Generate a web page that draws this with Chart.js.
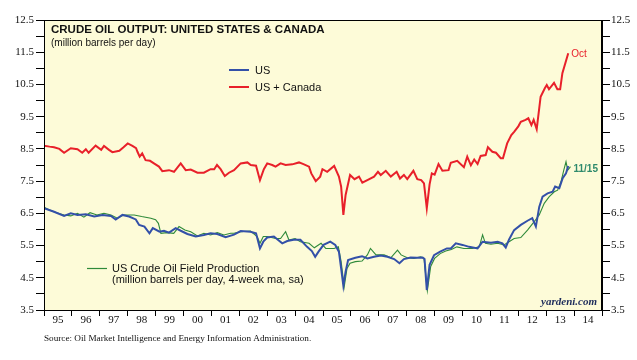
<!DOCTYPE html>
<html>
<head>
<meta charset="utf-8">
<script src="https://cdn.jsdelivr.net/npm/chart.js@4.4.1/dist/chart.umd.min.js"></script>
<style>
  html, body { margin: 0; padding: 0; background: #ffffff; }
  #wrap { width: 637px; height: 360px; position: relative; }
</style>
</head>
<body>
<div id="wrap"><canvas id="c" width="637" height="360"></canvas></div>
<script>
// ---- Data ----
const yearLabels = ['95','96','97','98','99','00','01','02','03','04','05','06','07','08','09','10','11','12','13','14'];
const yTickLabels = ['3.5','4.5','5.5','6.5','7.5','8.5','9.5','10.5','11.5','12.5'];

// US + Canada (monthly, million barrels per day)
const usCanDates = [1995.00,1995.20,1995.36,1995.55,1995.72,1995.96,1996.20,1996.37,1996.50,1996.60,1996.85,1997.05,1997.15,1997.33,1997.45,1997.70,1997.85,1998.00,1998.17,1998.30,1998.35,1998.43,1998.52,1998.64,1998.80,1998.94,1999.12,1999.24,1999.48,1999.66,1999.90,2000.08,2000.26,2000.50,2000.73,2000.97,2001.10,2001.20,2001.33,2001.48,2001.63,2001.81,2002.05,2002.29,2002.41,2002.60,2002.74,2002.88,2003.00,2003.18,2003.30,2003.48,2003.66,2003.90,2004.14,2004.32,2004.50,2004.58,2004.74,2004.90,2004.98,2005.15,2005.40,2005.57,2005.65,2005.73,2005.81,2005.97,2006.13,2006.29,2006.41,2006.59,2006.83,2006.97,2007.07,2007.25,2007.43,2007.64,2007.76,2007.90,2008.02,2008.24,2008.38,2008.52,2008.62,2008.72,2008.82,2008.90,2009.00,2009.14,2009.28,2009.50,2009.58,2009.81,2010.05,2010.17,2010.30,2010.42,2010.54,2010.65,2010.83,2010.91,2011.07,2011.20,2011.37,2011.45,2011.60,2011.75,2011.85,2012.00,2012.09,2012.26,2012.36,2012.47,2012.55,2012.66,2012.80,2012.95,2013.02,2013.10,2013.28,2013.40,2013.50,2013.58,2013.79];
const usCanValues = [8.60,8.57,8.55,8.50,8.38,8.52,8.49,8.38,8.49,8.38,8.60,8.47,8.59,8.47,8.40,8.44,8.55,8.67,8.59,8.52,8.41,8.26,8.36,8.15,8.13,8.05,7.95,7.81,7.84,7.79,8.05,7.84,7.86,7.76,7.76,7.87,7.87,8.00,7.87,7.66,7.76,7.84,8.05,8.08,8.00,7.98,7.53,7.87,8.05,8.00,7.95,8.05,8.00,8.02,8.08,8.02,7.95,7.74,7.50,7.64,7.87,7.79,7.97,7.64,7.33,6.45,7.07,7.69,7.56,7.64,7.45,7.53,7.64,7.79,7.69,7.82,7.64,7.79,7.58,7.69,7.56,7.82,7.56,7.53,7.43,6.66,7.40,7.74,7.70,8.03,7.82,7.84,8.07,8.13,7.93,8.26,7.99,8.17,8.03,8.28,8.31,8.55,8.41,8.38,8.21,8.21,8.67,8.93,9.03,9.20,9.34,9.40,9.45,9.24,9.40,9.11,10.12,10.38,10.48,10.35,10.55,10.35,10.35,10.85,11.47];

// US (monthly)
const usDates = [1995.00,1995.36,1995.72,1995.96,1996.20,1996.50,1996.80,1997.10,1997.40,1997.57,1997.81,1998.05,1998.29,1998.41,1998.60,1998.78,1998.90,1999.14,1999.30,1999.48,1999.72,1999.90,2000.14,2000.44,2000.73,2000.97,2001.21,2001.51,2001.81,2002.05,2002.40,2002.60,2002.74,2002.86,2003.00,2003.24,2003.54,2003.72,2003.95,2004.19,2004.43,2004.60,2004.72,2004.84,2005.02,2005.26,2005.44,2005.57,2005.65,2005.73,2005.81,2005.90,2006.16,2006.40,2006.59,2006.83,2007.07,2007.31,2007.55,2007.74,2007.90,2008.14,2008.36,2008.57,2008.64,2008.72,2008.82,2008.98,2009.20,2009.44,2009.58,2009.76,2010.00,2010.24,2010.54,2010.72,2011.02,2011.26,2011.43,2011.55,2011.67,2011.85,2012.09,2012.33,2012.50,2012.63,2012.75,2012.87,2013.05,2013.23,2013.32,2013.47,2013.59,2013.71,2013.79];
const usValues = [6.66,6.55,6.42,6.50,6.45,6.47,6.40,6.45,6.42,6.31,6.45,6.40,6.31,6.14,6.09,5.88,6.04,5.93,5.96,5.90,6.04,5.96,5.86,5.78,5.83,5.88,5.86,5.76,5.84,5.95,5.93,5.88,5.41,5.62,5.75,5.78,5.57,5.64,5.68,5.68,5.46,5.33,5.15,5.31,5.52,5.62,5.52,5.31,4.79,4.25,4.69,5.05,5.12,5.17,5.10,5.15,5.19,5.15,5.08,4.95,5.08,5.13,5.12,5.13,5.08,4.12,4.90,5.20,5.31,5.41,5.41,5.57,5.52,5.46,5.41,5.62,5.59,5.62,5.57,5.44,5.69,5.98,6.14,6.27,6.35,6.09,6.70,7.02,7.12,7.17,7.33,7.28,7.59,7.74,7.97];

// US Crude Oil Field Production (weekly, 4-week ma, sa)
const fieldDates = [1995.00,1995.20,1995.45,1995.72,1995.96,1996.20,1996.43,1996.65,1996.90,1997.15,1997.40,1997.63,1997.85,1998.23,1998.50,1998.83,1999.00,1999.10,1999.19,1999.40,1999.65,1999.84,2000.05,2000.26,2000.50,2000.73,2000.97,2001.21,2001.45,2001.69,2001.81,2002.05,2002.40,2002.64,2002.74,2002.86,2003.00,2003.30,2003.48,2003.66,2003.78,2004.00,2004.19,2004.50,2004.69,2004.93,2005.10,2005.40,2005.55,2005.65,2005.76,2005.86,2005.97,2006.16,2006.40,2006.59,2006.70,2006.90,2007.19,2007.43,2007.67,2007.80,2008.02,2008.26,2008.50,2008.62,2008.74,2008.86,2009.00,2009.20,2009.40,2009.60,2009.80,2010.05,2010.35,2010.60,2010.72,2010.82,2011.02,2011.26,2011.49,2011.67,2011.85,2012.09,2012.33,2012.57,2012.75,2012.93,2013.11,2013.29,2013.41,2013.53,2013.63,2013.71,2013.77,2013.87];
const fieldValues = [6.69,6.60,6.52,6.45,6.42,6.50,6.38,6.52,6.45,6.50,6.45,6.35,6.45,6.45,6.40,6.35,6.30,6.19,5.88,5.90,5.88,6.09,5.98,5.93,5.80,5.88,5.83,5.90,5.83,5.88,5.88,5.93,5.95,5.78,5.57,5.78,5.78,5.72,5.72,5.93,5.67,5.72,5.62,5.57,5.43,5.57,5.41,5.41,5.46,5.00,4.22,4.79,4.95,5.00,5.02,5.21,5.41,5.21,5.21,5.12,5.36,5.21,5.12,5.10,5.15,5.10,4.10,4.85,5.10,5.25,5.33,5.38,5.46,5.41,5.41,5.46,5.83,5.57,5.54,5.57,5.52,5.62,5.72,5.75,5.98,6.24,6.45,6.81,7.02,7.17,7.22,7.48,7.84,8.10,7.84,7.95];

const zip = (xs, ys) => xs.map((x, i) => ({ x: x, y: ys[i] }));

const COL_RED = '#e8202a';
const COL_BLUE = '#3350a8';
const COL_GREEN = '#2f8a3a';

const decorPlugin = {
  id: 'decor',
  beforeDraw(chart) {
    const { ctx, chartArea: a } = chart;
    ctx.save();
    ctx.fillStyle = '#fdfbd8';
    ctx.fillRect(a.left, a.top, a.right - a.left, a.bottom - a.top);
    ctx.restore();
  },
  afterDraw(chart) {
    const { ctx, chartArea: a, scales } = chart;
    ctx.save();
    // frame
    ctx.strokeStyle = '#000';
    ctx.lineWidth = 1;
    ctx.strokeRect(a.left + 0.5, a.top + 0.5, a.right - a.left - 1, a.bottom - a.top);

    // title
    ctx.fillStyle = '#111';
    ctx.textBaseline = 'alphabetic';
    ctx.textAlign = 'left';
    ctx.font = 'bold 11.5px "Liberation Sans", Arial, sans-serif';
    ctx.fillText('CRUDE OIL OUTPUT: UNITED STATES & CANADA', 51, 33);
    ctx.font = '10px "Liberation Sans", Arial, sans-serif';
    ctx.fillText('(million barrels per day)', 51, 46);

    // legend top
    ctx.lineWidth = 2;
    ctx.strokeStyle = COL_BLUE;
    ctx.beginPath(); ctx.moveTo(229, 70); ctx.lineTo(249, 70); ctx.stroke();
    ctx.strokeStyle = COL_RED;
    ctx.beginPath(); ctx.moveTo(229, 87); ctx.lineTo(249, 87); ctx.stroke();
    ctx.textBaseline = 'middle';
    ctx.font = '11px "Liberation Sans", Arial, sans-serif';
    ctx.fillStyle = '#111';
    ctx.fillText('US', 255, 70.5);
    ctx.fillText('US + Canada', 255, 87.5);

    // legend bottom
    ctx.lineWidth = 1.2;
    ctx.strokeStyle = COL_GREEN;
    ctx.beginPath(); ctx.moveTo(87, 268.5); ctx.lineTo(107, 268.5); ctx.stroke();
    ctx.fillText('US Crude Oil Field Production', 112, 268.5);
    ctx.fillText('(million barrels per day, 4-week ma, sa)', 112, 279.5);

    // end labels
    const xs = scales.x, ys = scales.y;
    const lastRedX = usCanDates[usCanDates.length - 1], lastRedY = usCanValues[usCanValues.length - 1];
    ctx.fillStyle = COL_RED;
    ctx.font = '10px "Liberation Sans", Arial, sans-serif';
    ctx.fillText('Oct', xs.getPixelForValue(lastRedX) + 3, ys.getPixelForValue(lastRedY) + 1);
    const lastGX = fieldDates[fieldDates.length - 1], lastGY = fieldValues[fieldValues.length - 1];
    ctx.fillStyle = '#2e8a6c';
    ctx.font = 'bold 10px "Liberation Sans", Arial, sans-serif';
    ctx.fillText('11/15', xs.getPixelForValue(lastGX) + 3, ys.getPixelForValue(lastGY) + 3);

    // yardeni.com
    ctx.fillStyle = '#1e2d5c';
    ctx.textAlign = 'right';
    ctx.font = 'italic bold 11px "Liberation Serif", "Times New Roman", serif';
    ctx.fillText('yardeni.com', 597, 302.5);

    // source
    ctx.fillStyle = '#111';
    ctx.textAlign = 'left';
    ctx.font = '9.2px "Liberation Serif", "Times New Roman", serif';
    ctx.fillText('Source: Oil Market Intelligence and Energy Information Administration.', 44, 339);
    ctx.restore();
  }
};

const yTickCallback = (v) => {
  const s = (Math.round(v * 10) / 10).toFixed(1);
  return yTickLabels.includes(s) ? s : '';
};

new Chart(document.getElementById('c'), {
  type: 'line',
  data: {
    datasets: [
      { label: 'US + Canada', data: zip(usCanDates, usCanValues), borderColor: COL_RED, borderWidth: 2, pointRadius: 0, tension: 0, order: 0 },
      { label: 'US', data: zip(usDates, usValues), borderColor: COL_BLUE, borderWidth: 2, pointRadius: 0, tension: 0, order: 1 },
      { label: 'US Crude Oil Field Production', data: zip(fieldDates, fieldValues), borderColor: COL_GREEN, borderWidth: 1.1, pointRadius: 0, tension: 0, order: 2 }
    ]
  },
  options: {
    responsive: false,
    animation: false,
    events: [],
    layout: { padding: { top: 20, left: 0, right: 0, bottom: 0 } },
    plugins: { legend: { display: false }, tooltip: { enabled: false }, title: { display: false } },
    scales: {
      x: {
        type: 'linear', min: 1995, max: 2015,
        afterFit: (s) => { s.height = 50; },
        afterBuildTicks: (s) => { s.ticks = []; for (let y = 1995; y <= 2015; y++) s.ticks.push({ value: y }); },
        ticks: {
          autoSkip: false, maxRotation: 0, labelOffset: 14, padding: -2,
          color: '#111', font: { family: '"Liberation Serif", "Times New Roman", serif', size: 11 },
          callback: (v) => { const i = Math.round(v) - 1995; return i >= 0 && i < yearLabels.length ? yearLabels[i] : ''; }
        },
        grid: { display: true, drawOnChartArea: false, drawTicks: true, tickLength: 6, color: '#000', lineWidth: 1 },
        border: { display: true, color: '#000', width: 1 }
      },
      y: {
        position: 'left', min: 3.5, max: 12.5,
        afterFit: (s) => { s.width = 44; },
        afterBuildTicks: (s) => { s.ticks = []; for (let i = 0; i <= 18; i++) s.ticks.push({ value: 3.5 + i * 0.5 }); },
        ticks: { autoSkip: false, padding: 2, color: '#111', font: { family: '"Liberation Serif", "Times New Roman", serif', size: 11 }, callback: yTickCallback },
        grid: { display: true, drawOnChartArea: false, drawTicks: true, tickLength: 8, color: '#000', lineWidth: 1 },
        border: { display: true, color: '#000', width: 1 }
      },
      y2: {
        position: 'right', min: 3.5, max: 12.5,
        afterFit: (s) => { s.width = 35; },
        afterBuildTicks: (s) => { s.ticks = []; for (let i = 0; i <= 18; i++) s.ticks.push({ value: 3.5 + i * 0.5 }); },
        ticks: { autoSkip: false, padding: 1, color: '#111', font: { family: '"Liberation Serif", "Times New Roman", serif', size: 11 }, callback: yTickCallback },
        grid: { display: true, drawOnChartArea: false, drawTicks: true, tickLength: 8, color: '#000', lineWidth: 1 },
        border: { display: true, color: '#000', width: 1 }
      }
    }
  },
  plugins: [decorPlugin]
});
</script>
</body>
</html>
